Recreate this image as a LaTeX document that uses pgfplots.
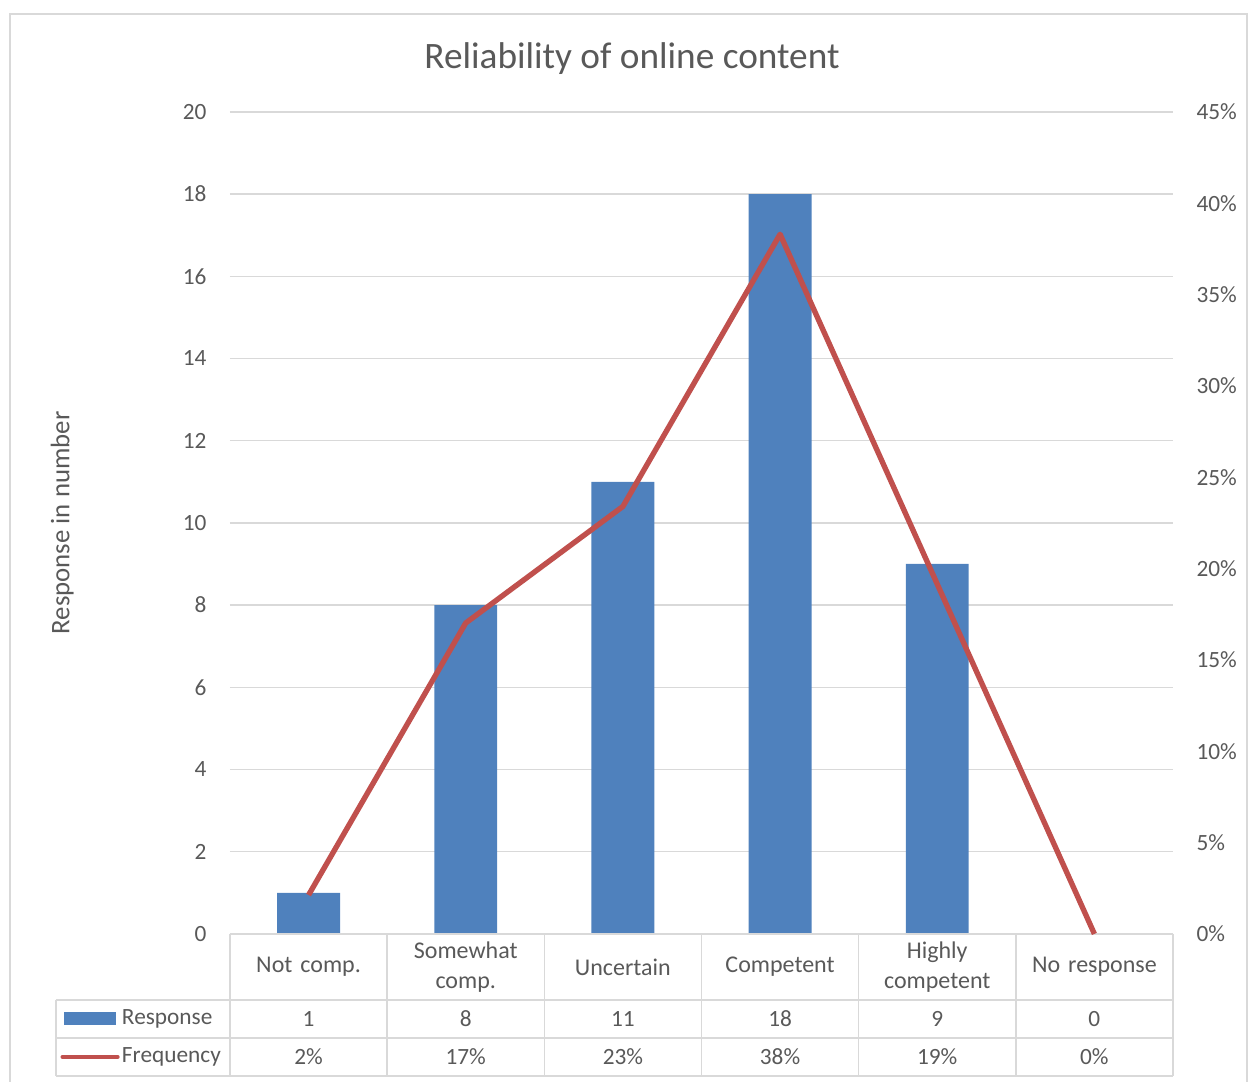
\documentclass[border=0pt]{standalone}
\usepackage{pgfplots}
\pgfplotsset{compat=1.18}
\usepackage{pgfplotstable}
\usepackage{fontspec}
\setmainfont{Carlito}

\definecolor{barblue}{HTML}{4F81BD}
\definecolor{linered}{HTML}{C0504D}
\definecolor{gridgray}{HTML}{D9D9D9}
\definecolor{textgray}{HTML}{595959}

% x = category position, resp = responses, freq = exact share (%), pct = rounded share shown in the table
\pgfplotstableread{
x resp freq  pct
0 1    2.13  2
1 8    17.02 17
2 11   23.40 23
3 18   38.30 38
4 9    19.15 19
5 0    0     0
}\datatable

\pgfplotsset{
  common/.style={
    width=404.7pt, height=352.8pt, scale only axis,
    xmin=-0.5, xmax=5.5, clip=false,
    axis line style={draw=none},
    major tick length=0pt,
    /pgf/number format/assume math mode=true,
    tick label style={font=\fontsize{10pt}{12.5pt}\selectfont, text=textgray},
  },
}

\begin{document}
\begin{tikzpicture}[font=\fontsize{10pt}{12.5pt}\selectfont]
\useasboundingbox (-98.7pt,-63.5pt) rectangle (439.9pt,400.8pt);
\draw[gridgray, line width=0.6pt] (-94.4pt,394.8pt) rectangle (436.5pt,-80pt);

\begin{axis}[common,
    ymin=0, ymax=20, ytick={0,2,...,20},
    ymajorgrids, grid style={gridgray, line width=0.6pt},
    xtick={0,...,5},
    xticklabels={Not comp., {Somewhat\\comp.}, Uncertain, Competent, {Highly\\competent}, No response},
    xticklabel style={anchor=center, yshift=-14.2pt, align=center, text width=62pt,
      font=\fontsize{10.3pt}{12.8pt}\selectfont},
    yticklabel style={anchor=east, inner sep=0pt, xshift=-9.9pt},
    title={Reliability of online content},
    every axis title/.style={at={(rel axis cs:0.5,1)}, xshift=-29.8pt, yshift=22.9pt,
      anchor=center, font=\fontsize{16pt}{18pt}\selectfont, text=textgray},
    ylabel={Response in number},
    every axis y label/.style={at={(rel axis cs:0,0.5)}, xshift=-72pt, rotate=90,
      anchor=center, text=textgray, font=\fontsize{11.5pt}{13pt}\selectfont},
  ]
  \addplot[ybar, bar width=27pt, draw=none, fill=barblue] table[x=x, y=resp] {\datatable};

  % data table grid
  \draw[gridgray, line width=0.6pt]
    (axis cs:-0.5,0) -- (axis cs:5.5,0)
    (axis cs:-1.608,-1.606) -- (axis cs:5.5,-1.606)
    (axis cs:-1.608,-2.530) -- (axis cs:5.5,-2.530)
    (axis cs:-1.608,-3.455) -- (axis cs:5.5,-3.455)
    (axis cs:-1.608,-1.606) -- (axis cs:-1.608,-3.455);
  \pgfplotsinvokeforeach{-0.5,0.5,1.5,2.5,3.5,4.5,5.5}{
    \draw[gridgray, line width=0.6pt] (axis cs:#1,0) -- (axis cs:#1,-3.455);
  }

  % legend keys
  \fill[barblue] (axis cs:-1.559,-1.898) rectangle (axis cs:-1.228,-2.214);
  \draw[linered, line width=1.8pt, line cap=round] (axis cs:-1.565,-2.993) -- (axis cs:-1.215,-2.993);
  \node[anchor=west, inner sep=0pt, text=textgray] at (axis cs:-1.190,-2.068) {Response};
  \node[anchor=west, inner sep=0pt, text=textgray] at (axis cs:-1.190,-2.993) {Frequency};
\end{axis}

\begin{axis}[common,
    ymin=0, ymax=45, ytick={0,5,...,45},
    axis x line=none,
    yticklabel pos=right,
    yticklabel={\pgfmathprintnumber{\tick}\%},
    yticklabel style={anchor=west, inner sep=0pt, xshift=9.9pt},
  ]
  \addplot[linered, line width=2.3pt, line join=round, mark=none] table[x=x, y=freq] {\datatable};

  % table values
  \addplot[draw=none, mark=none, nodes near coords, point meta=explicit symbolic,
    nodes near coords style={anchor=center, text=textgray, inner sep=0pt}]
    table[x=x, y expr=-4.656, meta=resp] {\datatable};
  \addplot[draw=none, mark=none, nodes near coords={\pgfplotspointmeta\%}, point meta=explicit symbolic,
    nodes near coords style={anchor=center, text=textgray, inner sep=0pt}]
    table[x=x, y expr=-6.735, meta=pct] {\datatable};
\end{axis}
\end{tikzpicture}
\end{document}
